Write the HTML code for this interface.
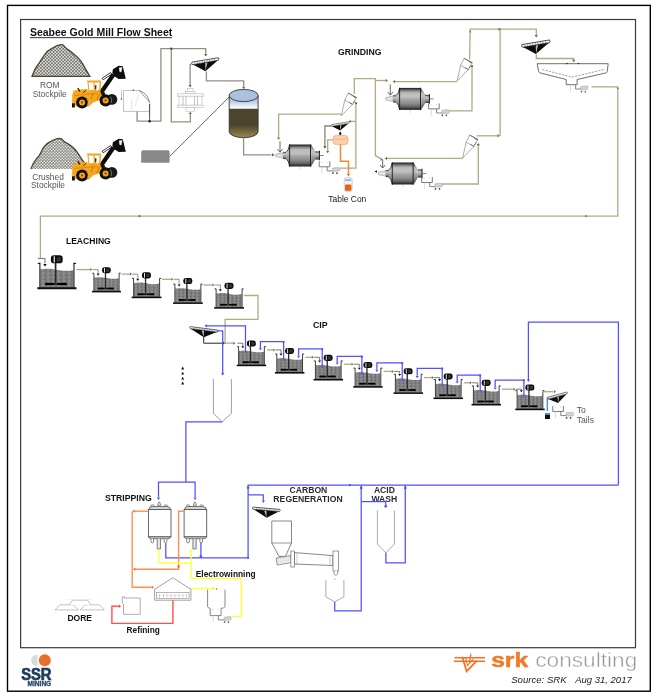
<!DOCTYPE html>
<html><head><meta charset="utf-8"><title>Seabee Gold Mill Flow Sheet</title>
<style>html,body{margin:0;padding:0;background:#fff;}svg{display:block;font-family:"Liberation Sans",sans-serif;filter:blur(0.35px);}</style>
</head><body>
<svg width="656" height="698" viewBox="0 0 656 698" font-family="Liberation Sans, sans-serif">
<defs>
<pattern id="gravel" width="3.2" height="3.2" patternUnits="userSpaceOnUse">
  <rect width="3.2" height="3.2" fill="#6e6b60"/>
  <circle cx="0.8" cy="0.8" r="0.95" fill="#dfe1e3"/>
  <circle cx="2.4" cy="2.4" r="0.95" fill="#dfe1e3"/>
</pattern>
<pattern id="gravel2" width="3" height="3" patternUnits="userSpaceOnUse">
  <rect width="3" height="3" fill="#8e8d88"/>
  <circle cx="0.75" cy="0.75" r="0.8" fill="#e6e6e4"/>
  <circle cx="2.25" cy="2.25" r="0.8" fill="#e6e6e4"/>
</pattern>
<pattern id="slurry" width="4" height="3" patternUnits="userSpaceOnUse">
  <rect width="4" height="3" fill="#858585"/>
  <rect x="0" y="0" width="1" height="3" fill="#727272"/>
  <rect x="2" y="1" width="1" height="1" fill="#9c9c9c"/>
  <rect x="3" y="0" width="1" height="1" fill="#6a6a6a"/>
</pattern>
<linearGradient id="millg" x1="0" y1="0" x2="0" y2="1">
  <stop offset="0" stop-color="#222"/>
  <stop offset="0.05" stop-color="#3a3a3a"/>
  <stop offset="0.11" stop-color="#7a7a7a"/>
  <stop offset="0.23" stop-color="#bababa"/>
  <stop offset="0.4" stop-color="#c2c2c2"/>
  <stop offset="0.55" stop-color="#a2a2a2"/>
  <stop offset="0.72" stop-color="#8a8a8a"/>
  <stop offset="0.86" stop-color="#626262"/>
  <stop offset="0.94" stop-color="#383838"/>
  <stop offset="1" stop-color="#222"/>
</linearGradient>
<linearGradient id="tankg" x1="0" y1="0" x2="0" y2="1">
  <stop offset="0" stop-color="#8fb0d4"/>
  <stop offset="0.18" stop-color="#c8d8ea"/>
  <stop offset="0.3" stop-color="#ffffff"/>
  <stop offset="0.33" stop-color="#4c4631"/>
  <stop offset="0.7" stop-color="#4a432c"/>
  <stop offset="1" stop-color="#9a8a55"/>
</linearGradient>
<symbol id="tank" overflow="visible">
  <path d="M0.4,4.6 Q4,3.9 8,4.3 Q12,4.8 16,5.6 Q21,6.2 25.6,5.3 L25.6,18.6 L0.4,18.6 Z" fill="url(#slurry)"/>
  <path d="M-1.6,0.2 L0,0 L0,18.6 M27.6,0.2 L26,0 L26,18.6" stroke="#1a1a1a" stroke-width="0.85" fill="none"/>
  <rect x="-1.9" y="18.3" width="29.8" height="1.6" fill="#0d0d0d"/>
  <path d="M4,15.3 Q4,14.9 5,14.9 L11.3,15.2 L11.3,16.7 L5,16.9 Q4,16.9 4,16.4 Z M20.6,15.3 Q20.6,14.9 19.6,14.9 L12.7,15.2 L12.7,16.7 L19.6,16.9 Q20.6,16.9 20.6,16.4 Z" fill="#000"/>
  <rect x="11.3" y="-0.5" width="1.3" height="17.4" fill="#2a2a2a"/>
  <rect x="8.4" y="-6" width="9" height="6.1" rx="2.4" fill="#0a0a0a"/>
  <rect x="10.5" y="-5.3" width="0.9" height="4.7" fill="#fff"/>
  <rect x="12.8" y="-4.6" width="3.2" height="3.4" fill="#333"/>
</symbol>
<symbol id="mill" overflow="visible">
  <path d="M0,-1.4 L7.4,-2.8 L7.4,2.6 L0,1.2 Z" fill="#e2e2e2" stroke="#8a8a8a" stroke-width="0.5"/>
  <rect x="7.4" y="-3.6" width="3.4" height="7.2" fill="url(#millg)"/>
  <path d="M10.6,-3.8 Q13,-5 13.9,-11 L13.9,11 Q13,5 10.6,3.8 Z" fill="url(#millg)"/>
  <rect x="13.7" y="-11" width="21.2" height="22" fill="url(#millg)"/>
  <path d="M10.8,-3.8 Q13,-5 13.9,-11 M10.8,3.8 Q13,5 13.9,11" fill="none" stroke="#1a1a1a" stroke-width="0.8"/>
  <rect x="34.4" y="-11.2" width="1.1" height="22.4" fill="#111"/>
  <rect x="13.5" y="-11.1" width="0.9" height="22.2" fill="#1a1a1a"/>
  <path d="M35.5,-10.5 L39.4,-4.6 L39.4,4.6 L35.5,10.5 Z" fill="url(#millg)"/>
  <rect x="39.4" y="-4" width="4.4" height="8" fill="url(#millg)"/>
  <rect x="43.2" y="-4.8" width="1" height="9.6" fill="#1a1a1a"/>
  <line x1="44" y1="0" x2="48" y2="0" stroke="#555" stroke-width="0.7"/>
  <line x1="24.6" y1="11.4" x2="24.6" y2="14" stroke="#aaa" stroke-width="0.5"/>
</symbol>
<symbol id="sump" overflow="visible">
  <path d="M0,0 L0,5.5 L10.6,5.5 L10.6,0" fill="none" stroke="#6a6a6a" stroke-width="0.9"/>
  <path d="M2.4,0.6 L2.4,1.6 M7.8,0.6 L7.8,1.6" stroke="#999" stroke-width="0.5"/>
  <line x1="2.7" y1="5.5" x2="2.7" y2="12.3" stroke="#c8c8c8" stroke-width="0.7"/>
  <path d="M8,5.5 L8,9.6 L13.5,9.6" fill="none" stroke="#777" stroke-width="0.9"/>
  <path d="M13.2,6.8 L19,6.2 Q21.2,6.3 21,7.6 L20.4,9.8 L13.2,10.3 Z" fill="#d2d2d2" stroke="#a0a0a0" stroke-width="0.5"/>
  <circle cx="13.8" cy="11.9" r="0.85" fill="#444"/><circle cx="17.8" cy="11.9" r="0.85" fill="#444"/>
</symbol>
<symbol id="cyclone" overflow="visible">
  <path d="M0,0 L-4.4,-15.5 L-4.6,-23.4 L4.6,-23.4 L4.4,-15.5 Z" fill="#fff" stroke="#7a7a7a" stroke-width="0.55"/>
  <line x1="-4.4" y1="-15.5" x2="4.4" y2="-15.5" stroke="#7a7a7a" stroke-width="0.55"/>
  <path d="M-4.8,-23.5 L4.8,-23.5 M0.5,-15.6 L4.8,-15.6 M1,-22.9 L4.9,-22.9 M4.6,-20 L4.6,-17" stroke="#666" stroke-width="0.75"/>
</symbol>
<symbol id="screen" overflow="visible">
  <path d="M0.4,1.3 L26.5,-3.1 L13.4,8.2 Z" fill="#0c0c0c"/>
  <path d="M13.2,-0.6 L15.6,-1.0 L13.6,8.0 Z" fill="#bdbdbd"/>
  <path d="M-0.6,-1.2 L26.6,-5.8 Q27.8,-5.8 27.5,-4.5 L27,-3.2 L0.4,1.4 Q-0.9,1.4 -0.9,0 Z" fill="#fff" stroke="#111" stroke-width="0.75"/>
  <path d="M2,-0.2 L25,-4.1" stroke="#333" stroke-width="0.7" stroke-dasharray="0.9,1.7"/>
</symbol>
<symbol id="vessel" overflow="visible">
  <path d="M9.2,3.4 L10.3,0.3 L11.3,0.3 L12.4,3.4 Z" fill="#fff" stroke="#555" stroke-width="0.7"/>
  <rect x="2.5" y="2.9" width="3.1" height="2.2" rx="1" fill="#eee" stroke="#555" stroke-width="0.6"/>
  <rect x="15.9" y="2.9" width="3.1" height="2.2" rx="1" fill="#eee" stroke="#555" stroke-width="0.6"/>
  <path d="M0.3,7.8 Q0.6,4.7 4,4.6 L18.6,4.6 Q22,4.7 22.3,7.8 Z" fill="#d6d6d6" stroke="#555" stroke-width="0.8"/>
  <rect x="0" y="7.6" width="22.6" height="27.3" fill="#fff" stroke="#555" stroke-width="0.9"/>
  <path d="M0.2,34.9 Q0.7,36.8 3,36.8 L19.6,36.8 Q21.9,36.8 22.4,34.9 Z" fill="#cfcfcf" stroke="#555" stroke-width="0.8"/>
  <path d="M2.6,36.8 L2.6,40.2 Q3.9,41.8 5.2,40.2 L5.2,36.8" fill="#fff" stroke="#555" stroke-width="0.7"/>
  <path d="M15.8,36.8 L15.8,40.2 Q17.1,41.8 18.4,40.2 L18.4,36.8" fill="#fff" stroke="#555" stroke-width="0.7"/>
  <path d="M8.8,36.8 L8.8,47 L12.1,47 L12.1,36.8" fill="#e4e4e4" stroke="#555" stroke-width="0.7"/>
</symbol>
</defs>
<rect width="656" height="698" fill="#fff"/>
<rect x="7.5" y="5.4" width="642.8" height="685.8" fill="none" stroke="#000" stroke-width="1.4"/>
<rect x="20.6" y="19.5" width="614.9" height="628.2" fill="none" stroke="#3a3a3a" stroke-width="1.2"/>
<text x="29.9" y="36.2" font-size="10.5" font-weight="bold" fill="#111" text-anchor="start"  >Seabee Gold Mill Flow Sheet</text>
<rect x="29.8" y="37.2" width="142.2" height="0.95" fill="#222"/>
<path d="M32.1,76.3 C34,71 36,67 38.2,64.5 C41,60 43,57 44.9,54.3 C47,51.5 49,50 51.5,48.7 C54,47 56,45.6 58.6,45.1 C60.5,44.6 62,44.5 63.2,45 C64.5,46.5 65,47.5 66.3,48.2 C68.5,50 71,51.5 72.9,53.3 C75,55 77.5,57 79.1,58.9 C81.5,61.5 83,64 84.2,66.6 C86,70 88,73 89.8,76.3 Z" fill="url(#gravel)" stroke="#4a4428" stroke-width="1.3"/>
<path d="M30.9,169 C32,166 33.5,163 34.8,161.2 C36,159 37.5,157.5 38.7,156.3 C40,154.5 41,152.5 41.6,151 C42.5,149 43.5,147.5 44.5,146.1 C46.5,144 48.5,142.5 50.4,141.7 C52,140.5 53.5,139.7 55.3,139.3 C57,138.6 58.5,138.3 59.7,138.3 C61,138.5 62,139 62.6,139.8 C63.5,141 64,141.8 65,142.2 C67.5,143.5 70,145 71.9,146.6 C73.5,148 75.5,150 76.7,151.5 C78,153.5 79.5,155.5 80.6,157.3 C82,159.5 83.5,161.5 84.5,163.2 L86,169 Z" fill="url(#gravel2)" stroke="none"/>
<path d="M30.9,169 C32,166 33.5,163 34.8,161.2 C36,159 37.5,157.5 38.7,156.3 C40,154.5 41,152.5 41.6,151 C42.5,149 43.5,147.5 44.5,146.1 C46.5,144 48.5,142.5 50.4,141.7 C52,140.5 53.5,139.7 55.3,139.3 C57,138.6 58.5,138.3 59.7,138.3 C61,138.5 62,139 62.6,139.8 C63.5,141 64,141.8 65,142.2 C67.5,143.5 70,145 71.9,146.6 C73.5,148 75.5,150 76.7,151.5 C78,153.5 79.5,155.5 80.6,157.3 C82,159.5 83.5,161.5 84.5,163.2" fill="none" stroke="#4a4428" stroke-width="1.3"/>
<text x="49.7" y="87.8" font-size="8.4" font-weight="normal" fill="#555" text-anchor="middle"  >ROM</text>
<text x="49.7" y="96.9" font-size="8.4" font-weight="normal" fill="#555" text-anchor="middle"  >Stockpile</text>
<text x="48" y="179.5" font-size="8.4" font-weight="normal" fill="#555" text-anchor="middle"  >Crushed</text>
<text x="48" y="188.2" font-size="8.4" font-weight="normal" fill="#555" text-anchor="middle"  >Stockpile</text>
<g transform="translate(0,-73)"><path d="M102.2,151.2 L110.6,145.6 L111.6,147.2 L103.2,152.8 Z" fill="#fff" stroke="#111" stroke-width="0.8"/><path d="M100.6,162.5 L111.8,146.2 L115.4,148.4 L104.4,164.4 Z" fill="#0d0d0d"/><path d="M112.4,145.6 L112.9,142.3 L118.7,138.8 L122.8,139.3 L125.8,151.8 L118.7,152.1 L113.9,149.1 Z" fill="#0d0d0d"/><path d="M119,140.6 L122.4,140.3 L121.2,145.4 L119.4,144.4 Z" fill="#f0f0f0"/><path d="M72.2,168.5 L73.5,163.8 L79,162.5 L87.2,162 L88,164.6 L100.5,164 L102.8,165.5 L104.2,169.5 L101.5,172.5 L93,175.5 L89,179.4 L76.5,179.4 L72.2,176.5 Z" fill="#f6a51d"/><path d="M99.5,163.2 L103,162 L105.5,167.5 L102.2,169 Z" fill="#151515"/><path d="M74,168.5 L98,166.5" stroke="#c07800" stroke-width="0.5"/><path d="M86.9,153.6 L100.6,153.4 L101.2,155.3 L100.3,165 L88.4,165.5 L87.5,155.3 Z" fill="#f6a51d"/><path d="M88.6,155.6 L93.4,155.6 L93.7,163 L89.3,163.2 Z M94.7,155.6 L99.6,155.5 L99.1,162.8 L95,162.9 Z" fill="#fff"/><path d="M94.8,158.5 L96.3,158 L96.6,162.4 L95,162.4 Z" fill="#333"/><path d="M96.5,160.5 L97.9,160.5 L97.8,163.5 L96.5,163.5 Z" fill="#fff"/><path d="M77.8,161 L79.8,164.5" stroke="#111" stroke-width="1.3"/><path d="M83,165.8 L86,163.5" stroke="#222" stroke-width="0.8"/><path d="M91,172 L93,166 M97,173 L99.5,167" stroke="#8a5a00" stroke-width="0.5"/><rect x="72" y="176.3" width="2.8" height="4.2" fill="#111"/><circle cx="111.9" cy="172.4" r="5.4" fill="#1a1a1a"/><circle cx="82.1" cy="175.4" r="6" fill="#111"/><circle cx="82.1" cy="175.4" r="3" fill="#f6a51d"/><circle cx="82.1" cy="175.4" r="1.1" fill="#7a4e08"/><path d="M86.8,171.5 A6,6 0 0 1 87.5,178" fill="none" stroke="#bbb" stroke-width="0.6"/><circle cx="105.6" cy="173.4" r="6.1" fill="#111"/><circle cx="105.6" cy="173.4" r="3" fill="#f6a51d"/><circle cx="105.6" cy="173.4" r="1.1" fill="#7a4e08"/><path d="M110.3,169.6 A6,6 0 0 1 111,176" fill="none" stroke="#bbb" stroke-width="0.6"/></g>
<g transform="translate(0,0)"><path d="M102.2,151.2 L110.6,145.6 L111.6,147.2 L103.2,152.8 Z" fill="#fff" stroke="#111" stroke-width="0.8"/><path d="M100.6,162.5 L111.8,146.2 L115.4,148.4 L104.4,164.4 Z" fill="#0d0d0d"/><path d="M112.4,145.6 L112.9,142.3 L118.7,138.8 L122.8,139.3 L125.8,151.8 L118.7,152.1 L113.9,149.1 Z" fill="#0d0d0d"/><path d="M119,140.6 L122.4,140.3 L121.2,145.4 L119.4,144.4 Z" fill="#f0f0f0"/><path d="M72.2,168.5 L73.5,163.8 L79,162.5 L87.2,162 L88,164.6 L100.5,164 L102.8,165.5 L104.2,169.5 L101.5,172.5 L93,175.5 L89,179.4 L76.5,179.4 L72.2,176.5 Z" fill="#f6a51d"/><path d="M99.5,163.2 L103,162 L105.5,167.5 L102.2,169 Z" fill="#151515"/><path d="M74,168.5 L98,166.5" stroke="#c07800" stroke-width="0.5"/><path d="M86.9,153.6 L100.6,153.4 L101.2,155.3 L100.3,165 L88.4,165.5 L87.5,155.3 Z" fill="#f6a51d"/><path d="M88.6,155.6 L93.4,155.6 L93.7,163 L89.3,163.2 Z M94.7,155.6 L99.6,155.5 L99.1,162.8 L95,162.9 Z" fill="#fff"/><path d="M94.8,158.5 L96.3,158 L96.6,162.4 L95,162.4 Z" fill="#333"/><path d="M96.5,160.5 L97.9,160.5 L97.8,163.5 L96.5,163.5 Z" fill="#fff"/><path d="M77.8,161 L79.8,164.5" stroke="#111" stroke-width="1.3"/><path d="M83,165.8 L86,163.5" stroke="#222" stroke-width="0.8"/><path d="M91,172 L93,166 M97,173 L99.5,167" stroke="#8a5a00" stroke-width="0.5"/><rect x="72" y="176.3" width="2.8" height="4.2" fill="#111"/><circle cx="111.9" cy="172.4" r="5.4" fill="#1a1a1a"/><circle cx="82.1" cy="175.4" r="6" fill="#111"/><circle cx="82.1" cy="175.4" r="3" fill="#f6a51d"/><circle cx="82.1" cy="175.4" r="1.1" fill="#7a4e08"/><path d="M86.8,171.5 A6,6 0 0 1 87.5,178" fill="none" stroke="#bbb" stroke-width="0.6"/><circle cx="105.6" cy="173.4" r="6.1" fill="#111"/><circle cx="105.6" cy="173.4" r="3" fill="#f6a51d"/><circle cx="105.6" cy="173.4" r="1.1" fill="#7a4e08"/><path d="M110.3,169.6 A6,6 0 0 1 111,176" fill="none" stroke="#bbb" stroke-width="0.6"/></g>
<path d="M123.5,90.5 L139.1,90.5 Q147.5,93 149.6,102.4 L149.6,111.4 L123.5,111.4 Z" fill="#fff" stroke="#a8a8a8" stroke-width="0.7"/>
<path d="M139.1,90.5 Q147.5,93 149.6,102.4 L139.1,90.5" fill="none" stroke="#888" stroke-width="0.8"/>
<path d="M121.5,89.6 L121.5,100" stroke="#aaa" stroke-width="0.6"/>
<circle cx="121.4" cy="99" r="0.8" fill="#444"/><circle cx="133.4" cy="90.3" r="0.8" fill="#444"/>
<path d="M131.6,100 L131.6,111.4 M138.6,93.7 L135.4,105.9" stroke="#ccc" stroke-width="0.5"/>
<path d="M149.6,104 L149.6,114.5" stroke="#444" stroke-width="1"/>
<g fill="#fff" stroke="#b8b8b8" stroke-width="0.6"><rect x="187.5" y="88.6" width="5.5" height="3"/><rect x="185.5" y="91.4" width="9.5" height="2.4"/><rect x="177.5" y="93.8" width="26" height="2.4"/><rect x="179" y="96.2" width="23" height="9"/><rect x="177.5" y="105.2" width="26" height="2.4"/><rect x="186" y="107.6" width="8.5" height="3.6"/></g>
<path d="M183,96.5 L183,105 M186,96.5 L186,105 M194.5,96.5 L194.5,105 M197.5,96.5 L197.5,105" stroke="#999" stroke-width="0.6"/>
<path d="M137.1,111.4 L137.1,121.2 L160.9,121.2 L160.9,48.6 L205.7,48.6 L205.7,53.8" fill="none" stroke="#939080" stroke-width="1.3" stroke-linejoin="miter" />
<polygon points="205.7,56.2 204.2,54.1 207.2,54.1" fill="#55503a"/>
<path d="M149.6,113 L149.6,121.2" fill="none" stroke="#555" stroke-width="1.0" stroke-linejoin="miter" />
<circle cx="149.6" cy="121.2" r="1.3" fill="#222"/>
<path d="M171.3,48.6 L171.3,121.8 L190.3,121.8 L190.3,113" fill="none" stroke="#939080" stroke-width="1.3" stroke-linejoin="miter" />
<circle cx="171.3" cy="48.8" r="1.2" fill="#55503a"/>
<polygon points="190.3,111.8 188.7,114.0 191.9,114.0" fill="#7a7045"/>
<use href="#screen" transform="translate(192.5,63.3) scale(0.96)"/>
<path d="M191.5,64.3 L190.1,64.3 L190.1,85" fill="none" stroke="#939080" stroke-width="1.3" stroke-linejoin="miter" />
<polygon points="190.1,87.5 188.4,85.1 191.8,85.1" fill="#7a7045"/>
<path d="M206.4,71.5 L206.4,80.9 L243.7,80.9 L243.7,86.5" fill="none" stroke="#939080" stroke-width="1.3" stroke-linejoin="miter" />
<polygon points="243.7,89.2 242.0,86.8 245.4,86.8" fill="#7a7045"/>
<path d="M141.2,162.8 L141.2,152 Q141.2,150.3 143,150.3 L167.8,150.3 Q169.6,150.3 169.6,152 L169.6,162.8 Z" fill="#888"/>
<line x1="169.6" y1="156.5" x2="229.2" y2="97" stroke="#6b6440" stroke-width="1"/>
<path d="M229.2,95.5 L229.2,131.5 A14.45,6.2 0 0 0 258.1,131.5 L258.1,95.5 Z" fill="url(#tankg)" stroke="#333" stroke-width="0.9"/>
<ellipse cx="243.65" cy="95.5" rx="14.45" ry="6.1" fill="#aac2de" stroke="#333" stroke-width="0.9"/>
<path d="M243.6,137.8 L243.6,154.9 L271.5,154.9" fill="none" stroke="#939080" stroke-width="1.3" stroke-linejoin="miter" />
<polygon points="274.5,154.9 272.1,153.2 272.1,156.6" fill="#55503a"/>
<text x="338" y="54.6" font-size="8.7" font-weight="bold" fill="#111" text-anchor="start"  >GRINDING</text>
<use href="#mill" transform="translate(275.7,155.5)"/>
<use href="#mill" transform="translate(385.7,98.9)"/>
<use href="#mill" transform="translate(378.3,173.5)"/>
<use href="#sump" transform="translate(319.2,161.3)"/>
<use href="#sump" transform="translate(428.6,103.4)"/>
<use href="#sump" transform="translate(421.7,177)"/>
<line x1="280" y1="141.3" x2="280" y2="152.1" stroke="#555" stroke-width="0.9"/>
<path d="M277.4,149.1 L280,152.1 L282.6,149.1" fill="none" stroke="#555" stroke-width="0.9"/>
<line x1="390.3" y1="84.4" x2="390.3" y2="95.1" stroke="#555" stroke-width="0.9"/>
<path d="M387.7,92.1 L390.3,95.1 L392.90000000000003,92.1" fill="none" stroke="#555" stroke-width="0.9"/>
<line x1="382.7" y1="159.5" x2="382.7" y2="168" stroke="#555" stroke-width="0.9"/>
<path d="M380.09999999999997,165 L382.7,168 L385.3,165" fill="none" stroke="#555" stroke-width="0.9"/>
<use href="#cyclone" transform="translate(341.3,116) rotate(28)"/>
<use href="#cyclone" transform="translate(457.1,81.2) rotate(28)"/>
<use href="#cyclone" transform="translate(462.7,158) rotate(28)"/>
<path d="M341.5,114.2 L278.6,114.2 L278.6,137" fill="none" stroke="#b3a981" stroke-width="1.3" stroke-linejoin="miter" />
<polygon points="278.6,139.8 276.9,137.4 280.3,137.4" fill="#7a7045"/>
<path d="M354.3,94 L354.3,78.6 L375.4,78.6 L375.4,155.6 L380.5,158.6" fill="none" stroke="#b3a981" stroke-width="1.3" stroke-linejoin="miter" />
<path d="M375.4,80.5 L385.5,80.5" fill="none" stroke="#b3a981" stroke-width="1.3" stroke-linejoin="miter" />
<polygon points="388.0,80.5 385.6,78.8 385.6,82.2" fill="#7a7045"/>
<polygon points="382.8,159.3 380.6,157.7 380.6,160.9" fill="#7a7045"/>
<path d="M340,168.2 L355.9,168.2 L355.9,103.1" fill="none" stroke="#b3a981" stroke-width="1.3" stroke-linejoin="miter" />
<circle cx="355.9" cy="103.1" r="1.2" fill="#7a7045"/>
<path d="M355.9,121.4 L350.5,121.4" fill="none" stroke="#b3a981" stroke-width="1.3" stroke-linejoin="miter" />
<polygon points="348.6,121.4 350.8,119.8 350.8,123.0" fill="#7a7045"/>
<use href="#screen" transform="translate(331.7,125.4) scale(0.63)"/>
<path d="M340.2,131.5 L341.6,133.7 L340.2,135.5 L338.8,133.7 Z" fill="#111"/>
<path d="M331.7,126 L324.9,126 L324.9,146" fill="none" stroke="#8c8770" stroke-width="1.3" stroke-linejoin="miter" />
<polygon points="324.9,148.5 323.3,146.3 326.5,146.3" fill="#3a3a2a"/>
<path d="M333,139.8 L327.7,139.8 L327.7,151" fill="none" stroke="#b3a981" stroke-width="1.3" stroke-linejoin="miter" />
<polygon points="327.7,153.3 326.1,151.1 329.3,151.1" fill="#7a7045"/>
<rect x="333" y="135.4" width="15.1" height="9.2" rx="3.5" fill="#fdd0ad" stroke="#f6ae7a" stroke-width="0.9"/>
<path d="M333.5,138.5 Q340.5,140.5 347.6,138.5" fill="none" stroke="#f4a46a" stroke-width="0.6"/>
<path d="M340.5,144.6 L340.5,161.3 L348.5,161.3 L348.5,173.5" fill="none" stroke="#f4883a" stroke-width="1.5" stroke-linejoin="miter" />
<polygon points="348.5,176.2 346.8,173.8 350.2,173.8" fill="#f06010"/>
<rect x="344.2" y="177.6" width="8" height="13.9" rx="2.2" fill="#f2f2f2" stroke="#bbb" stroke-width="0.6"/>
<rect x="345.2" y="179.3" width="6" height="1.6" fill="#8ab0d8"/>
<rect x="345.0" y="184.5" width="6.4" height="6.2" rx="1" fill="#e8620f"/>
<text x="328.3" y="201.7" font-size="8.45" font-weight="normal" fill="#222" text-anchor="start"  >Table Con</text>
<path d="M449.3,110.9 L472,110.9 L472,66" fill="none" stroke="#b3a981" stroke-width="1.3" stroke-linejoin="miter" />
<circle cx="472" cy="66.1" r="1.2" fill="#7a7045"/>
<path d="M469.6,59.5 L470.2,29.2 L536.3,29.2 L536.3,35" fill="none" stroke="#b3a981" stroke-width="1.3" stroke-linejoin="miter" />
<polygon points="470.2,30.5 468.9,32.3 471.5,32.3" fill="#7a7045"/>
<circle cx="499.5" cy="29.2" r="1.2" fill="#7a7045"/>
<polygon points="536.3,37.5 534.6,35.1 538.0,35.1" fill="#7a7045"/>
<path d="M457.1,81.6 L395,81.6" fill="none" stroke="#b3a981" stroke-width="1.3" stroke-linejoin="miter" />
<polygon points="392.7,81.6 395.1,79.9 395.1,83.3" fill="#7a7045"/>
<path d="M500.1,29.2 L500.1,136.2" fill="none" stroke="#b3a981" stroke-width="1.3" stroke-linejoin="miter" />
<path d="M476.6,135.8 L497,135.8" fill="none" stroke="#b3a981" stroke-width="1.3" stroke-linejoin="miter" />
<polygon points="499.8,135.8 497.4,134.1 497.4,137.5" fill="#7a7045"/>
<path d="M442.5,184 L478.3,184 L478.3,144.6" fill="none" stroke="#b3a981" stroke-width="1.3" stroke-linejoin="miter" />
<circle cx="478.3" cy="144.6" r="1.2" fill="#7a7045"/>
<path d="M462.7,158.4 L387,158.4" fill="none" stroke="#b3a981" stroke-width="1.3" stroke-linejoin="miter" />
<polygon points="384.6,158.4 387.0,156.7 387.0,160.1" fill="#7a7045"/>
<polygon points="375,170.2 377.5,171.5 375,172.8" fill="#111" transform="rotate(180 376 171.5)"/>
<use href="#screen" transform="translate(522.5,45.8)"/>
<path d="M536.3,54.2 L536.3,58.5 L573.7,58.5 L573.7,60" fill="none" stroke="#b3a981" stroke-width="1.3" stroke-linejoin="miter" />
<polygon points="573.7,62.2 572.0,59.8 575.4,59.8" fill="#7a7045"/>
<path d="M537.2,63.7 L608.2,63.7 L607.2,71.5 Q606.8,72.6 605.5,73 L577.1,79.5 L577.1,84.7 L566.2,84.7 L566.2,79.5 L540.5,73 Q539,72.6 538.6,71.5 Z" fill="#fff" stroke="#555" stroke-width="0.85"/>
<path d="M542.3,69.5 L572,77.2 L603.9,69.5" fill="none" stroke="#777" stroke-width="0.7" stroke-dasharray="2.2,1.2"/>
<circle cx="566.9" cy="63.5" r="0.8" fill="#222"/><circle cx="578.5" cy="63.5" r="0.8" fill="#222"/>
<line x1="570.3" y1="84.7" x2="570.3" y2="91.9" stroke="#c8c8c8" stroke-width="0.7"/>
<path d="M575.6,84.7 L575.6,89 L581,89" fill="none" stroke="#777" stroke-width="0.9"/>
<path d="M580.7,86.6 L586.3,86 Q588.3,86.1 588.1,87.3 L587.5,89.6 L580.7,90.1 Z" fill="#d2d2d2" stroke="#a0a0a0" stroke-width="0.5"/>
<circle cx="581.5" cy="91.7" r="0.8" fill="#444"/><circle cx="585.3" cy="91.7" r="0.8" fill="#444"/>
<path d="M591.5,86.9 L617.8,86.9 L617.8,216.1 L40.4,216.1 L40.4,258.4" fill="none" stroke="#b3a981" stroke-width="1.3" stroke-linejoin="miter" />
<polygon points="617.8,89.5 616.5,87.7 619.1,87.7" fill="#7a7045"/>
<circle cx="139.5" cy="216.1" r="1.2" fill="#7a7045"/>
<polygon points="584.5,216.1 586.5,214.7 586.5,217.5" fill="#7a7045"/>
<text x="65.9" y="244.1" font-size="8.6" font-weight="bold" fill="#111" text-anchor="start"  >LEACHING</text>
<use href="#tank" transform="translate(39.9,263.2) scale(1.31)"/>
<use href="#tank" transform="translate(93.9,273.1) scale(0.97)"/>
<use href="#tank" transform="translate(133.6,278.3) scale(1.0)"/>
<use href="#tank" transform="translate(174.9,284) scale(1.0)"/>
<use href="#tank" transform="translate(216.1,288.8) scale(1.0)"/>
<path d="M37.7,258.4 L45,258.4 L45,263.5" fill="none" stroke="#666" stroke-width="0.9" stroke-linejoin="miter" />
<polygon points="45.0,266.5 43.2,264.0 46.8,264.0" fill="#111"/>
<path d="M76.46000000000001,269.6 L90.4,269.6" fill="none" stroke="#b3a981" stroke-width="1.3" stroke-linejoin="miter" />
<polygon points="92.4,269.6 90.3,268.1 90.3,271.1" fill="#7a7045"/>
<path d="M92.7,269.6 L98.10000000000001,269.6 L98.10000000000001,273.40000000000003" fill="none" stroke="#777" stroke-width="0.8" stroke-linejoin="miter" />
<polygon points="98.1,275.7 96.6,273.6 99.6,273.6" fill="#111"/>
<path d="M121.62,274.1 L130.1,274.1" fill="none" stroke="#b3a981" stroke-width="1.3" stroke-linejoin="miter" />
<polygon points="132.1,274.1 130.0,272.6 130.0,275.6" fill="#7a7045"/>
<path d="M132.4,274.1 L137.79999999999998,274.1 L137.79999999999998,278.6" fill="none" stroke="#777" stroke-width="0.8" stroke-linejoin="miter" />
<polygon points="137.8,280.9 136.3,278.8 139.3,278.8" fill="#111"/>
<path d="M162.1,279.3 L171.4,279.3" fill="none" stroke="#b3a981" stroke-width="1.3" stroke-linejoin="miter" />
<polygon points="173.4,279.3 171.3,277.8 171.3,280.8" fill="#7a7045"/>
<path d="M173.70000000000002,279.3 L179.1,279.3 L179.1,284.3" fill="none" stroke="#777" stroke-width="0.8" stroke-linejoin="miter" />
<polygon points="179.1,286.6 177.6,284.5 180.6,284.5" fill="#111"/>
<path d="M203.4,285 L212.6,285" fill="none" stroke="#b3a981" stroke-width="1.3" stroke-linejoin="miter" />
<polygon points="214.6,285.0 212.5,283.5 212.5,286.5" fill="#7a7045"/>
<path d="M214.9,285 L220.29999999999998,285 L220.29999999999998,289.1" fill="none" stroke="#777" stroke-width="0.8" stroke-linejoin="miter" />
<polygon points="220.3,291.4 218.8,289.3 221.8,289.3" fill="#111"/>
<path d="M244.1,295.5 L258,295.5 L258,319.3 L225.1,319.3 L225.1,343.2 L234,343.2" fill="none" stroke="#b3a981" stroke-width="1.3" stroke-linejoin="miter" />
<text x="313" y="328.3" font-size="8.8" font-weight="bold" fill="#111" text-anchor="start"  >CIP</text>
<use href="#tank" transform="translate(238.6,346.5) scale(0.99)"/>
<use href="#tank" transform="translate(276.8,353.9) scale(0.99)"/>
<use href="#tank" transform="translate(315.4,360.8) scale(0.99)"/>
<use href="#tank" transform="translate(355.1,368) scale(0.99)"/>
<use href="#tank" transform="translate(395.4,374.2) scale(0.99)"/>
<use href="#tank" transform="translate(435.4,379.4) scale(0.99)"/>
<use href="#tank" transform="translate(473.4,385.8) scale(0.99)"/>
<use href="#tank" transform="translate(517.1,390.5) scale(0.99)"/>
<use href="#screen" transform="translate(217.2,331) scale(-1,0.75)"/>
<path d="M203.7,336.5 L203.7,343.2 L222,343.2" fill="none" stroke="#222" stroke-width="1.0" stroke-linejoin="miter" />
<polygon points="225.0,343.2 222.8,341.6 222.8,344.8" fill="#222"/>
<polygon points="235.5,343.2 233.4,341.7 233.4,344.7" fill="#7a7045"/>
<path d="M237.4,343.2 L242.79999999999998,343.2 L242.79999999999998,346.0" fill="none" stroke="#555" stroke-width="0.8" stroke-linejoin="miter" />
<polygon points="242.8,348.3 241.3,346.2 244.3,346.2" fill="#111"/>
<path d="M275.6,349.9 L281.0,349.9 L281.0,353.4" fill="none" stroke="#555" stroke-width="0.8" stroke-linejoin="miter" />
<polygon points="281.0,355.7 279.5,353.6 282.5,353.6" fill="#111"/>
<path d="M267.1,349.9 L273.3,349.9" fill="none" stroke="#b3a981" stroke-width="1.3" stroke-linejoin="miter" />
<polygon points="275.3,349.9 273.2,348.4 273.2,351.4" fill="#7a7045"/>
<path d="M314.2,357.29999999999995 L319.59999999999997,357.29999999999995 L319.59999999999997,360.3" fill="none" stroke="#555" stroke-width="0.8" stroke-linejoin="miter" />
<polygon points="319.6,362.6 318.1,360.5 321.1,360.5" fill="#111"/>
<path d="M305.3,357.29999999999995 L311.9,357.29999999999995" fill="none" stroke="#b3a981" stroke-width="1.3" stroke-linejoin="miter" />
<polygon points="313.9,357.3 311.8,355.8 311.8,358.8" fill="#7a7045"/>
<path d="M353.90000000000003,364.2 L359.3,364.2 L359.3,367.5" fill="none" stroke="#555" stroke-width="0.8" stroke-linejoin="miter" />
<polygon points="359.3,369.8 357.8,367.7 360.8,367.7" fill="#111"/>
<path d="M343.9,364.2 L351.6,364.2" fill="none" stroke="#b3a981" stroke-width="1.3" stroke-linejoin="miter" />
<polygon points="353.6,364.2 351.5,362.7 351.5,365.7" fill="#7a7045"/>
<path d="M394.2,371.4 L399.59999999999997,371.4 L399.59999999999997,373.7" fill="none" stroke="#555" stroke-width="0.8" stroke-linejoin="miter" />
<polygon points="399.6,376.0 398.1,373.9 401.1,373.9" fill="#111"/>
<path d="M383.6,371.4 L391.9,371.4" fill="none" stroke="#b3a981" stroke-width="1.3" stroke-linejoin="miter" />
<polygon points="393.9,371.4 391.8,369.9 391.8,372.9" fill="#7a7045"/>
<path d="M434.2,377.59999999999997 L439.59999999999997,377.59999999999997 L439.59999999999997,378.9" fill="none" stroke="#555" stroke-width="0.8" stroke-linejoin="miter" />
<polygon points="439.6,381.2 438.1,379.1 441.1,379.1" fill="#111"/>
<path d="M423.9,377.59999999999997 L431.9,377.59999999999997" fill="none" stroke="#b3a981" stroke-width="1.3" stroke-linejoin="miter" />
<polygon points="433.9,377.6 431.8,376.1 431.8,379.1" fill="#7a7045"/>
<path d="M472.2,382.79999999999995 L477.59999999999997,382.79999999999995 L477.59999999999997,385.3" fill="none" stroke="#555" stroke-width="0.8" stroke-linejoin="miter" />
<polygon points="477.6,387.6 476.1,385.5 479.1,385.5" fill="#111"/>
<path d="M463.9,382.79999999999995 L469.9,382.79999999999995" fill="none" stroke="#b3a981" stroke-width="1.3" stroke-linejoin="miter" />
<polygon points="471.9,382.8 469.8,381.3 469.8,384.3" fill="#7a7045"/>
<path d="M515.9,389.2 L521.3000000000001,389.2 L521.3000000000001,390.0" fill="none" stroke="#555" stroke-width="0.8" stroke-linejoin="miter" />
<polygon points="521.3,392.3 519.8,390.2 522.8,390.2" fill="#111"/>
<path d="M501.9,389.2 L513.6,389.2" fill="none" stroke="#b3a981" stroke-width="1.3" stroke-linejoin="miter" />
<polygon points="515.6,389.2 513.5,387.7 513.5,390.7" fill="#7a7045"/>
<path d="M283.6,360.9 L283.6,341.7 L260.4,341.7 L260.4,348.0" fill="none" stroke="#5050ff" stroke-width="1.25" stroke-linejoin="miter" />
<polygon points="260.4,350.5 258.8,348.3 262.0,348.3" fill="#5050ff"/>
<circle cx="283.6" cy="342.0" r="1.1" fill="#5050ff"/>
<path d="M322.2,367.8 L322.2,348.90000000000003 L298.6,348.90000000000003 L298.6,355.4" fill="none" stroke="#5050ff" stroke-width="1.25" stroke-linejoin="miter" />
<polygon points="298.6,357.9 297.0,355.7 300.2,355.7" fill="#5050ff"/>
<circle cx="322.2" cy="349.20000000000005" r="1.1" fill="#5050ff"/>
<path d="M361.90000000000003,375 L361.90000000000003,356.4 L337.2,356.4 L337.2,362.3" fill="none" stroke="#5050ff" stroke-width="1.25" stroke-linejoin="miter" />
<polygon points="337.2,364.8 335.6,362.6 338.8,362.6" fill="#5050ff"/>
<circle cx="361.90000000000003" cy="356.7" r="1.1" fill="#5050ff"/>
<path d="M402.2,381.2 L402.2,362.9 L376.90000000000003,362.9 L376.90000000000003,369.5" fill="none" stroke="#5050ff" stroke-width="1.25" stroke-linejoin="miter" />
<polygon points="376.9,372.0 375.3,369.8 378.5,369.8" fill="#5050ff"/>
<circle cx="402.2" cy="363.2" r="1.1" fill="#5050ff"/>
<path d="M442.2,386.4 L442.2,368.4 L417.2,368.4 L417.2,375.7" fill="none" stroke="#5050ff" stroke-width="1.25" stroke-linejoin="miter" />
<polygon points="417.2,378.2 415.6,376.0 418.8,376.0" fill="#5050ff"/>
<circle cx="442.2" cy="368.7" r="1.1" fill="#5050ff"/>
<path d="M480.2,392.8 L480.2,375.1 L457.2,375.1 L457.2,380.9" fill="none" stroke="#5050ff" stroke-width="1.25" stroke-linejoin="miter" />
<polygon points="457.2,383.4 455.6,381.2 458.8,381.2" fill="#5050ff"/>
<circle cx="480.2" cy="375.40000000000003" r="1.1" fill="#5050ff"/>
<path d="M523.9,397.5 L523.9,380.1 L495.2,380.1 L495.2,387.3" fill="none" stroke="#5050ff" stroke-width="1.25" stroke-linejoin="miter" />
<polygon points="495.2,389.8 493.6,387.6 496.8,387.6" fill="#5050ff"/>
<circle cx="523.9" cy="380.40000000000003" r="1.1" fill="#5050ff"/>
<path d="M245.5,353 L245.5,325.8 L206.5,325.8" fill="none" stroke="#5050ff" stroke-width="1.25" stroke-linejoin="miter" />
<polygon points="204.5,325.8 206.9,324.1 206.9,327.5" fill="#5050ff"/>
<path d="M216.6,330.8 L222.7,330.8 L222.7,373" fill="none" stroke="#5050ff" stroke-width="1.25" stroke-linejoin="miter" />
<polygon points="222.7,375.5 221.0,373.1 224.4,373.1" fill="#5050ff"/>
<path d="M213.4,379 L213.4,413.4 L222.3,421.7 L231.4,413.4 L231.4,379" fill="none" stroke="#888" stroke-width="0.8"/>
<polygon points="182.7,366.59999999999997 184.2,369.4 181.2,369.4" fill="#111"/>
<polygon points="182.7,371.7 184.2,374.5 181.2,374.5" fill="#111"/>
<polygon points="182.7,376.7 184.2,379.5 181.2,379.5" fill="#111"/>
<polygon points="182.7,381.59999999999997 184.2,384.4 181.2,384.4" fill="#111"/>
<path d="M528.4,380 L528.4,322.2 L618.4,322.2 L618.4,485.1" fill="none" stroke="#5050ff" stroke-width="1.25" stroke-linejoin="miter" />
<polygon points="528.4,382.0 526.7,379.6 530.1,379.6" fill="#5050ff"/>
<path d="M542,391.7 L553,391.7" fill="none" stroke="#b3a981" stroke-width="1.3" stroke-linejoin="miter" />
<polygon points="556.0,391.7 553.8,390.1 553.8,393.3" fill="#7a7045"/>
<use href="#screen" transform="translate(547.9,398.2) rotate(-6) scale(0.72)"/>
<path d="M549,398.4 L547.3,398.4 L547.3,411" fill="none" stroke="#3b8bdc" stroke-width="1.3" stroke-linejoin="miter" />
<rect x="545" y="413.5" width="5" height="5.5" fill="#111"/><rect x="545" y="413.5" width="5" height="1.5" fill="#4a8ad0"/>
<use href="#sump" transform="translate(552.8,406)"/>
<text x="576.8" y="413.4" font-size="8.6" font-weight="normal" fill="#555" text-anchor="start"  >To</text>
<text x="576.8" y="422.8" font-size="8.6" font-weight="normal" fill="#555" text-anchor="start"  >Tails</text>
<path d="M222.3,421.9 L185.9,421.9 L185.9,482.2" fill="none" stroke="#5050ff" stroke-width="1.25" stroke-linejoin="miter" />
<path d="M158.5,497 L158.5,482.2 L195.1,482.2 L195.1,497" fill="none" stroke="#5050ff" stroke-width="1.25" stroke-linejoin="miter" />
<polygon points="158.5,500.0 156.8,497.6 160.2,497.6" fill="#5050ff"/>
<polygon points="195.1,500.0 193.4,497.6 196.8,497.6" fill="#5050ff"/>
<text x="104.9" y="501.1" font-size="8.7" font-weight="bold" fill="#111" text-anchor="start"  >STRIPPING</text>
<use href="#vessel" transform="translate(148.4,501.9)"/>
<use href="#vessel" transform="translate(184.1,501.9)"/>
<path d="M165.8,543 L165.8,557.8 L248.1,557.8 L248.1,485.1 L618.4,485.1" fill="none" stroke="#5050ff" stroke-width="1.25" stroke-linejoin="miter" />
<circle cx="248.1" cy="487.8" r="1.3" fill="#5050ff"/>
<path d="M200.9,543 L200.9,557.8" fill="none" stroke="#5050ff" stroke-width="1.25" stroke-linejoin="miter" />
<circle cx="200.9" cy="556.5" r="1.3" fill="#5050ff"/>
<circle cx="248.1" cy="557.8" r="1.1" fill="#5050ff"/>
<circle cx="349.8" cy="485.1" r="1.2" fill="#5050ff"/>
<path d="M248.1,494.9 L263.3,494.9 L263.3,500.5" fill="none" stroke="#5050ff" stroke-width="1.25" stroke-linejoin="miter" />
<polygon points="263.3,503.0 261.6,500.6 265.0,500.6" fill="#5050ff"/>
<path d="M148,511.2 L134.5,511.2" fill="none" stroke="#ff8f50" stroke-width="1.4" stroke-linejoin="miter" />
<polygon points="132.5,511.2 134.7,509.6 134.7,512.8" fill="#ff6a1a"/>
<path d="M132.2,511.2 L132.2,587.3 L151.5,587.3" fill="none" stroke="#ff8f50" stroke-width="1.4" stroke-linejoin="miter" />
<polygon points="154.0,587.3 151.8,585.7 151.8,588.9" fill="#ff6a1a"/>
<path d="M184.1,511.2 L178.6,511.2 L178.6,569.2 L135,569.2" fill="none" stroke="#ff8f50" stroke-width="1.4" stroke-linejoin="miter" />
<circle cx="178.6" cy="566.5" r="1.2" fill="#ff6a1a"/>
<polygon points="133.0,569.2 135.2,567.6 135.2,570.8" fill="#ff6a1a"/>
<path d="M158.9,551.5 L158.9,563 L191.1,563" fill="none" stroke="#ffff48" stroke-width="1.4" stroke-linejoin="miter" />
<circle cx="158.9" cy="551.5" r="1.3" fill="#ffff48"/>
<path d="M191.1,550.5 L191.1,578.5 L241.3,578.5 L241.3,616.4 L231.3,616.4" fill="none" stroke="#ffff48" stroke-width="1.4" stroke-linejoin="miter" />
<circle cx="191.1" cy="550.5" r="1.3" fill="#ffff48"/>
<path d="M190.5,588.5 L212.5,588.5" fill="none" stroke="#ffff48" stroke-width="1.4" stroke-linejoin="miter" />
<polygon points="215.3,588.5 212.9,586.8 212.9,590.2" fill="#ffee20"/>
<text x="195.8" y="577.3" font-size="8.35" font-weight="bold" fill="#111" text-anchor="start"  >Electrowinning</text>
<path d="M154.6,589.3 L172.9,577.7 L190.9,589.3 L190.9,600.2 L154.6,600.2 Z" fill="#fff" stroke="#777" stroke-width="0.7"/>
<rect x="156.5" y="592.5" width="32.5" height="5.8" fill="#fff" stroke="#888" stroke-width="0.6"/>
<path d="M159.5,594 L159.5,597.5 M163.5,594 L163.5,597.5 M167,593.5 L167,597.5 M171,594 L171,597.5 M175,594 L175,597.5 M179,593.5 L179,597.5 M183,594 L183,597.5 M186.5,594 L186.5,597.5" stroke="#999" stroke-width="0.5"/>
<path d="M158,595.3 L188,595.3" stroke="#bbb" stroke-width="0.4" stroke-dasharray="1.5,1"/>
<path d="M207.6,589.6 L207.6,606.7 Q208,608 210.2,608.4 L210.2,615.6 L221.1,615.6 L221.1,608.4 Q224.6,608 225,606.7 L225,589.6" fill="none" stroke="#7a7a7a" stroke-width="0.9"/>
<path d="M212.5,608.8 L212.5,609.8 M218.5,608.8 L218.5,609.8" stroke="#999" stroke-width="0.5"/>
<line x1="213.2" y1="615.6" x2="213.2" y2="622.2" stroke="#c8c8c8" stroke-width="0.7"/>
<path d="M218.4,615.6 L218.4,619.9 L224.6,619.9" fill="none" stroke="#777" stroke-width="0.9"/>
<path d="M224.2,617.2 L229.5,616.5 Q231.5,616.6 231.3,617.8 L230.8,620 L224.2,620.4 Z" fill="#d2d2d2" stroke="#a0a0a0" stroke-width="0.5"/>
<circle cx="224.6" cy="622" r="0.85" fill="#444"/><circle cx="228.4" cy="622" r="0.85" fill="#444"/>
<circle cx="216.6" cy="588.8" r="0.6" fill="#333"/>
<path d="M172.9,600.2 L172.9,623.4 L111.9,623.4 L111.9,606.2 L118,606.2" fill="none" stroke="#ff5050" stroke-width="1.4" stroke-linejoin="miter" />
<polygon points="121.0,606.2 118.6,604.5 118.6,607.9" fill="#ff2020"/>
<path d="M122.3,597 L124.5,597 L124.5,598 L140.2,598 L140.2,614.3 L123.5,614.3 L123.5,604 L122.3,603 Z" fill="#fff" stroke="#777" stroke-width="0.6"/>
<text x="126.6" y="633.4" font-size="8.3" font-weight="bold" fill="#111" text-anchor="start"  >Refining</text>
<path d="M55,609.9 L60,604.8 L73.5,604.8 L78.4,609.9 Z" fill="#fff" stroke="#999" stroke-width="0.6"/>
<path d="M80.2,609.9 L85,604.8 L99.5,604.8 L104.4,609.9 Z" fill="#fff" stroke="#999" stroke-width="0.6"/>
<path d="M69.3,604.8 L72.5,600.2 L87.5,600.2 L90.8,604.8" fill="#fff" stroke="#999" stroke-width="0.6"/>
<path d="M66,599.5 L92,599.5" stroke="#f2e2b0" stroke-width="0.5"/>
<text x="67.4" y="620.9" font-size="8.5" font-weight="bold" fill="#111" text-anchor="start"  >DORE</text>
<text x="289.6" y="493.2" font-size="8.6" font-weight="bold" fill="#2a2a2a" text-anchor="start"  >CARBON</text>
<text x="273.3" y="502.0" font-size="8.6" font-weight="bold" fill="#2a2a2a" text-anchor="start" letter-spacing="0.08" >REGENERATION</text>
<text x="373.9" y="493.2" font-size="8.6" font-weight="bold" fill="#2a2a2a" text-anchor="start"  >ACID</text>
<text x="371.4" y="502.0" font-size="8.6" font-weight="bold" fill="#2a2a2a" text-anchor="start"  >WASH</text>
<use href="#screen" transform="translate(279.3,510.4) rotate(-3) scale(-0.97,0.8)"/>
<path d="M271.8,521 L291.5,521 L291.5,543 L285.4,556.4 L279,556.4 L271.8,543 Z" fill="#fff" stroke="#555" stroke-width="0.7"/>
<line x1="271.8" y1="543" x2="291.5" y2="543" stroke="#555" stroke-width="0.6"/>
<path d="M276.2,558 L290.5,555.5 L291.5,562.5 L277.2,565 Z" fill="#eee" stroke="#555" stroke-width="0.6"/>
<path d="M278,559.5 L289.5,557.5 M278.3,561.8 L289.8,559.8" stroke="#aaa" stroke-width="0.5" stroke-dasharray="1,1"/>
<rect x="290.9" y="551" width="3.6" height="16" fill="#fff" stroke="#555" stroke-width="0.6"/>
<path d="M294.5,552.6 L333,555.6 L333,565.5 L294.5,564 Z" fill="#fff" stroke="#555" stroke-width="0.7"/>
<path d="M297,553 L297,564.2 M330,555.4 L330,565.3" stroke="#999" stroke-width="0.5"/>
<rect x="333" y="551" width="5.4" height="20" fill="#fff" stroke="#555" stroke-width="0.6"/>
<path d="M334,571 L334,574 L335.8,575.6 L337.6,574 L337.6,571" fill="#fff" stroke="#555" stroke-width="0.6"/>
<path d="M325.9,580.1 L325.9,596.9 L334.7,601.9 L343.9,596.9 L343.9,580.1" fill="none" stroke="#888" stroke-width="0.7"/>
<rect x="334.3" y="578.6" width="0.9" height="0.9" fill="#555"/>
<path d="M334.7,601.9 L334.7,610.8 L361.2,610.8 L361.2,485.1" fill="none" stroke="#5050ff" stroke-width="1.25" stroke-linejoin="miter" />
<circle cx="361.2" cy="487.9" r="1.3" fill="#5050ff"/>
<path d="M361.2,501.5 L385.7,501.5 L385.7,506" fill="none" stroke="#5050ff" stroke-width="1.25" stroke-linejoin="miter" />
<circle cx="385.7" cy="506.2" r="1.3" fill="#5050ff"/>
<path d="M377.4,510.5 L377.4,544 L385.9,552.9 L394.4,544 L394.4,510.5" fill="none" stroke="#888" stroke-width="0.7"/>
<path d="M385.9,552.9 L385.9,562.8 L405.3,562.8 L405.3,485.1" fill="none" stroke="#5050ff" stroke-width="1.25" stroke-linejoin="miter" />
<circle cx="405.3" cy="487.9" r="1.3" fill="#5050ff"/>
<path d="M37.5,654.7 A5.8,5.8 0 0 0 37.5,666.3 Z" fill="#d5dadd"/>
<path d="M37.5,654.7 A5.8,5.8 0 0 0 37.5,666.3" fill="#d5dadd" transform="translate(-0.5,0)"/>
<circle cx="44.8" cy="660.3" r="6" fill="#e8702a"/>
<text transform="translate(21.3,679.8) scale(0.95,1)" font-size="15.6" font-weight="bold" fill="#1e3a5c" stroke="#1e3a5c" stroke-width="0.7" letter-spacing="-0.2">SSR</text>
<text transform="translate(27.6,686.4) scale(1.04,1)" font-size="6.3" font-weight="bold" fill="#1e3a5c" stroke="#1e3a5c" stroke-width="0.25">MINING</text>
<path d="M454.5,657.7 L485,657.7 M453.9,661.2 L485,661.2" stroke="#f37021" stroke-width="1.5"/>
<path d="M462.3,656.8 L466.6,671.3 L477,660.6" fill="none" stroke="#f37021" stroke-width="1.7" stroke-linejoin="miter"/>
<path d="M465.6,657.5 L467.4,665.5 L473.5,659.2" fill="none" stroke="#f37021" stroke-width="1.1"/>
<path d="M470.9,653.6 L469.6,662.3" fill="none" stroke="#f37021" stroke-width="1.2"/>
<text transform="translate(491.2,667.4) scale(1.2,1)" font-size="20.5" font-weight="bold" fill="#f07a2a" stroke="#f07a2a" stroke-width="0.5">srk</text>
<text transform="translate(535.3,667.3) scale(1.089,1)" font-size="20.8" fill="#999" stroke="#fff" stroke-width="0.45">consulting</text>
<text x="511.2" y="682.8" font-size="9.6" font-weight="normal" fill="#222" text-anchor="start" font-style="italic" >Source: SRK</text>
<text x="575.2" y="682.8" font-size="9.5" font-weight="normal" fill="#222" text-anchor="start" font-style="italic" >Aug 31, 2017</text>
</svg>
</body></html>
